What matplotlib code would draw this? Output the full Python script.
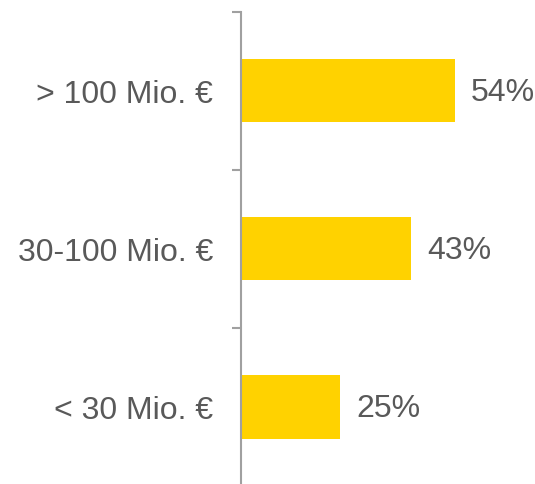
import matplotlib
matplotlib.use("Agg")
import matplotlib.pyplot as plt
from matplotlib.transforms import offset_copy

categories = ["> 100 Mio. €", "30-100 Mio. €", "< 30 Mio. €"]
values = [54, 43, 25]
value_labels = ["54%", "43%", "25%"]

plt.rcParams['font.family'] = ['Liberation Sans', 'DejaVu Sans']

W, H = 535, 485
fig = plt.figure(figsize=(W / 100, H / 100), dpi=100)
left = 241.5 / W
top_px, bottom_px = 12.5, 487
ax = fig.add_axes([left, (H - bottom_px) / H, 1 - left, (bottom_px - top_px) / H])

y = list(range(len(categories)))
ax.barh(y, values, height=0.4, color="#FFD200", zorder=2)
ax.set_ylim(len(categories) - 0.5, -0.5)
ax.set_xlim(0, (W - 241.5) / 3.95)

ax.set_yticks([i - 0.5 for i in range(len(categories) + 1)])
ax.set_yticklabels([])
ax.set_yticks(y, minor=True)
ax.set_yticklabels(categories, minor=True)
ax.tick_params(axis="y", which="major", length=6.5, width=1.5, color="#A0A0A0")
ax.tick_params(axis="y", which="minor", length=0, pad=20.5, labelsize=23, labelcolor="#595959")
ax.set_xticks([])

for s in ["top", "right", "bottom"]:
    ax.spines[s].set_visible(False)
ax.spines["left"].set_color("#A0A0A0")
ax.spines["left"].set_linewidth(1.5)

for i, (v, lab) in enumerate(zip(values, value_labels)):
    tr = offset_copy(ax.transData, fig=fig, x=16 * 0.72, y=-1 * 0.72, units="points")
    ax.text(v, i, lab, transform=tr, va="center", ha="left", fontsize=23, color="#595959")

fig.savefig("out.png", dpi=100)
